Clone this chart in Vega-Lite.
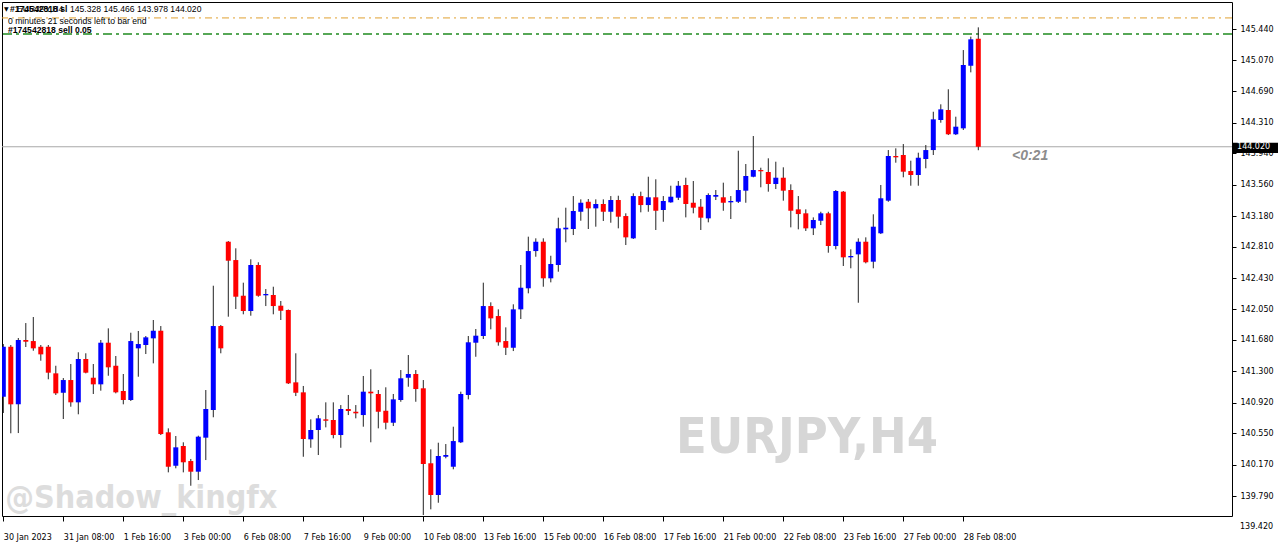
{
  "$schema": "https://vega.github.io/schema/vega-lite/v6.json",
  "width": 1230,
  "height": 514,
  "autosize": {"type": "none"},
  "padding": {"left": 2, "top": 2, "right": 48, "bottom": 33},
  "background": "#ffffff",
  "config": {
    "view": {"stroke": "#000000", "strokeWidth": 1},
    "scale": {"continuousPadding": 0},
    "axis": {"grid": false, "domain": false, "tickColor": "#000000", "labelColor": "#000000", "labelFont": "DejaVu Sans", "labelFontSize": 8, "title": null, "labelOverlap": false}
  },
  "datasets": {
    "bars": [
      {"i":0,"o":140.993,"h":141.631,"l":140.796,"c":141.598},
      {"i":1,"o":141.598,"h":141.619,"l":140.550,"c":140.901},
      {"i":2,"o":140.901,"h":141.704,"l":140.553,"c":141.680},
      {"i":3,"o":141.680,"h":141.885,"l":141.595,"c":141.659},
      {"i":4,"o":141.667,"h":141.958,"l":141.550,"c":141.579},
      {"i":5,"o":141.598,"h":141.619,"l":141.429,"c":141.506},
      {"i":6,"o":141.598,"h":141.619,"l":141.204,"c":141.284},
      {"i":7,"o":141.276,"h":141.368,"l":141.014,"c":141.034},
      {"i":8,"o":141.041,"h":141.219,"l":140.723,"c":141.195},
      {"i":9,"o":141.195,"h":141.389,"l":140.872,"c":140.925},
      {"i":10,"o":140.925,"h":141.531,"l":140.780,"c":141.450},
      {"i":11,"o":141.450,"h":141.519,"l":141.276,"c":141.284},
      {"i":12,"o":141.223,"h":141.389,"l":141.026,"c":141.143},
      {"i":13,"o":141.143,"h":141.680,"l":141.066,"c":141.647},
      {"i":14,"o":141.647,"h":141.821,"l":141.247,"c":141.349},
      {"i":15,"o":141.368,"h":141.486,"l":141.034,"c":141.046},
      {"i":16,"o":141.062,"h":141.268,"l":140.901,"c":140.953},
      {"i":17,"o":140.953,"h":141.768,"l":140.941,"c":141.667},
      {"i":18,"o":141.579,"h":141.789,"l":141.235,"c":141.631},
      {"i":19,"o":141.619,"h":141.728,"l":141.510,"c":141.712},
      {"i":20,"o":141.700,"h":141.922,"l":141.397,"c":141.792},
      {"i":21,"o":141.792,"h":141.849,"l":140.529,"c":140.541},
      {"i":22,"o":140.562,"h":140.610,"l":140.077,"c":140.145},
      {"i":23,"o":140.157,"h":140.517,"l":140.126,"c":140.380},
      {"i":24,"o":140.396,"h":140.441,"l":140.077,"c":140.199},
      {"i":25,"o":140.214,"h":140.239,"l":139.915,"c":140.085},
      {"i":26,"o":140.085,"h":140.521,"l":139.984,"c":140.509},
      {"i":27,"o":140.497,"h":141.074,"l":140.226,"c":140.844},
      {"i":28,"o":140.832,"h":142.337,"l":140.744,"c":141.849},
      {"i":29,"o":141.849,"h":141.861,"l":141.519,"c":141.579},
      {"i":30,"o":142.870,"h":142.878,"l":141.962,"c":142.640},
      {"i":31,"o":142.648,"h":142.790,"l":142.055,"c":142.204},
      {"i":32,"o":142.216,"h":142.374,"l":141.991,"c":142.031},
      {"i":33,"o":142.031,"h":142.657,"l":141.974,"c":142.588},
      {"i":34,"o":142.588,"h":142.621,"l":142.204,"c":142.216},
      {"i":35,"o":142.221,"h":142.297,"l":142.091,"c":142.237},
      {"i":36,"o":142.225,"h":142.325,"l":141.991,"c":142.091},
      {"i":37,"o":142.095,"h":142.152,"l":141.922,"c":142.034},
      {"i":38,"o":142.043,"h":142.049,"l":141.147,"c":141.155},
      {"i":39,"o":141.167,"h":141.519,"l":141.001,"c":141.041},
      {"i":40,"o":141.046,"h":141.123,"l":140.266,"c":140.481},
      {"i":41,"o":140.477,"h":140.719,"l":140.375,"c":140.590},
      {"i":42,"o":140.590,"h":140.771,"l":140.287,"c":140.731},
      {"i":43,"o":140.719,"h":140.925,"l":140.622,"c":140.702},
      {"i":44,"o":140.711,"h":140.925,"l":140.489,"c":140.529},
      {"i":45,"o":140.529,"h":140.892,"l":140.375,"c":140.844},
      {"i":46,"o":140.844,"h":141.014,"l":140.771,"c":140.820},
      {"i":47,"o":140.811,"h":140.892,"l":140.731,"c":140.792},
      {"i":48,"o":140.771,"h":141.244,"l":140.630,"c":141.054},
      {"i":49,"o":141.054,"h":141.325,"l":140.441,"c":141.034},
      {"i":50,"o":141.026,"h":141.074,"l":140.610,"c":140.811},
      {"i":51,"o":140.823,"h":141.107,"l":140.598,"c":140.678},
      {"i":52,"o":140.678,"h":141.026,"l":140.638,"c":140.961},
      {"i":53,"o":140.953,"h":141.316,"l":140.932,"c":141.216},
      {"i":54,"o":141.223,"h":141.498,"l":141.114,"c":141.268},
      {"i":55,"o":141.268,"h":141.316,"l":140.932,"c":141.086},
      {"i":56,"o":141.095,"h":141.195,"l":139.560,"c":140.178},
      {"i":57,"o":140.187,"h":140.356,"l":139.629,"c":139.803},
      {"i":58,"o":139.803,"h":140.436,"l":139.709,"c":140.275},
      {"i":59,"o":140.266,"h":140.420,"l":140.247,"c":140.287},
      {"i":60,"o":140.145,"h":140.630,"l":140.114,"c":140.456},
      {"i":61,"o":140.441,"h":141.054,"l":140.432,"c":141.026},
      {"i":62,"o":141.014,"h":141.728,"l":140.961,"c":141.652},
      {"i":63,"o":141.647,"h":141.813,"l":141.477,"c":141.732},
      {"i":64,"o":141.728,"h":142.374,"l":141.692,"c":142.091},
      {"i":65,"o":142.091,"h":142.136,"l":141.809,"c":141.942},
      {"i":66,"o":141.970,"h":142.051,"l":141.611,"c":141.652},
      {"i":67,"o":141.667,"h":141.833,"l":141.498,"c":141.586},
      {"i":68,"o":141.586,"h":142.112,"l":141.546,"c":142.051},
      {"i":69,"o":142.051,"h":142.588,"l":141.934,"c":142.313},
      {"i":70,"o":142.306,"h":142.931,"l":142.245,"c":142.757},
      {"i":71,"o":142.757,"h":142.911,"l":142.688,"c":142.870},
      {"i":72,"o":142.870,"h":142.911,"l":142.325,"c":142.427},
      {"i":73,"o":142.427,"h":142.700,"l":142.378,"c":142.600},
      {"i":74,"o":142.588,"h":143.161,"l":142.507,"c":143.032},
      {"i":75,"o":143.020,"h":143.282,"l":142.863,"c":143.040},
      {"i":76,"o":143.024,"h":143.423,"l":142.951,"c":143.242},
      {"i":77,"o":143.233,"h":143.383,"l":143.124,"c":143.342},
      {"i":78,"o":143.354,"h":143.387,"l":143.024,"c":143.274},
      {"i":79,"o":143.274,"h":143.383,"l":143.052,"c":143.327},
      {"i":80,"o":143.327,"h":143.383,"l":143.121,"c":143.233},
      {"i":81,"o":143.233,"h":143.423,"l":143.100,"c":143.375},
      {"i":82,"o":143.375,"h":143.427,"l":143.032,"c":143.173},
      {"i":83,"o":143.181,"h":143.214,"l":142.830,"c":142.923},
      {"i":84,"o":142.911,"h":143.456,"l":142.903,"c":143.423},
      {"i":85,"o":143.423,"h":143.476,"l":143.226,"c":143.314},
      {"i":86,"o":143.314,"h":143.657,"l":143.233,"c":143.408},
      {"i":87,"o":143.408,"h":143.626,"l":143.012,"c":143.245},
      {"i":88,"o":143.254,"h":143.423,"l":143.112,"c":143.363},
      {"i":89,"o":143.347,"h":143.548,"l":143.342,"c":143.415},
      {"i":90,"o":143.403,"h":143.605,"l":143.375,"c":143.548},
      {"i":91,"o":143.557,"h":143.645,"l":143.165,"c":143.327},
      {"i":92,"o":143.342,"h":143.605,"l":143.214,"c":143.282},
      {"i":93,"o":143.294,"h":143.387,"l":143.012,"c":143.161},
      {"i":94,"o":143.153,"h":143.456,"l":143.105,"c":143.436},
      {"i":95,"o":143.415,"h":143.496,"l":143.375,"c":143.436},
      {"i":96,"o":143.408,"h":143.585,"l":143.245,"c":143.342},
      {"i":97,"o":143.347,"h":143.423,"l":143.145,"c":143.363},
      {"i":98,"o":143.354,"h":143.972,"l":143.339,"c":143.496},
      {"i":99,"o":143.488,"h":143.811,"l":143.342,"c":143.666},
      {"i":100,"o":143.657,"h":144.150,"l":143.650,"c":143.738},
      {"i":101,"o":143.738,"h":143.766,"l":143.529,"c":143.723},
      {"i":102,"o":143.714,"h":143.880,"l":143.476,"c":143.569},
      {"i":103,"o":143.569,"h":143.839,"l":143.508,"c":143.645},
      {"i":104,"o":143.645,"h":143.771,"l":143.367,"c":143.488},
      {"i":105,"o":143.496,"h":143.565,"l":143.044,"c":143.245},
      {"i":106,"o":143.262,"h":143.423,"l":143.020,"c":143.205},
      {"i":107,"o":143.214,"h":143.262,"l":143.000,"c":143.032},
      {"i":108,"o":143.032,"h":143.165,"l":142.951,"c":143.133},
      {"i":109,"o":143.124,"h":143.233,"l":143.072,"c":143.214},
      {"i":110,"o":143.214,"h":143.233,"l":142.737,"c":142.818},
      {"i":111,"o":142.818,"h":143.496,"l":142.778,"c":143.484},
      {"i":112,"o":143.476,"h":143.484,"l":142.576,"c":142.681},
      {"i":113,"o":142.681,"h":142.778,"l":142.548,"c":142.697},
      {"i":114,"o":142.717,"h":142.911,"l":142.131,"c":142.870},
      {"i":115,"o":142.870,"h":142.923,"l":142.608,"c":142.621},
      {"i":116,"o":142.628,"h":143.202,"l":142.548,"c":143.052},
      {"i":117,"o":142.972,"h":143.557,"l":142.963,"c":143.396},
      {"i":118,"o":143.367,"h":143.980,"l":143.354,"c":143.908},
      {"i":119,"o":143.908,"h":144.001,"l":143.827,"c":143.892},
      {"i":120,"o":143.920,"h":144.053,"l":143.650,"c":143.718},
      {"i":121,"o":143.726,"h":143.851,"l":143.548,"c":143.678},
      {"i":122,"o":143.678,"h":143.948,"l":143.548,"c":143.887},
      {"i":123,"o":143.872,"h":144.041,"l":143.759,"c":143.980},
      {"i":124,"o":143.980,"h":144.444,"l":143.920,"c":144.352},
      {"i":125,"o":144.344,"h":144.534,"l":144.311,"c":144.473},
      {"i":126,"o":144.465,"h":144.716,"l":144.162,"c":144.171},
      {"i":127,"o":144.171,"h":144.384,"l":144.162,"c":144.263},
      {"i":128,"o":144.243,"h":145.191,"l":144.223,"c":145.010},
      {"i":129,"o":145.001,"h":145.353,"l":144.921,"c":145.321},
      {"i":130,"o":145.328,"h":145.466,"l":143.978,"c":144.020}
    ]
  },
  "layer": [
    {
      "data": {"name": "bars"},
      "mark": {"type": "rule", "opacity": 0},
      "encoding": {
        "x": {"field": "i", "type": "quantitative", "scale": {"domain": [-0.173, 163.827], "nice": false, "zero": false, "padding": 0},
          "axis": {"values": [0, 8, 16, 24, 32, 40, 48, 56, 64, 72, 80, 88, 96, 104, 112, 120, 128], "tickCount": 40, "tickSize": 5, "labelAlign": "left", "labelPadding": 16, "labelBaseline": "middle", "labelFlush": false, "labelOverlap": false, "title": null,
            "labelExpr": "['30 Jan 2023','31 Jan 08:00','1 Feb 16:00','3 Feb 00:00','6 Feb 08:00','7 Feb 16:00','9 Feb 00:00','10 Feb 08:00','13 Feb 16:00','15 Feb 00:00','16 Feb 08:00','17 Feb 16:00','21 Feb 00:00','22 Feb 08:00','23 Feb 16:00','27 Feb 00:00','28 Feb 08:00'][round(datum.value/8)]"}},
        "y": {"field": "l", "type": "quantitative", "scale": {"domain": [139.5485, 145.773], "nice": false, "zero": false, "padding": 0},
          "axis": {"orient": "right", "values": [139.79, 140.17, 140.55, 140.92, 141.3, 141.68, 142.05, 142.43, 142.81, 143.18, 143.56, 143.94, 144.31, 144.69, 145.07, 145.44], "tickCount": 40, "format": ".3f", "tickSize": 4, "labelPadding": 4, "labelFlush": false, "labelOverlap": false, "title": null}},
        "y2": {"field": "h"}
      }
    },
    {
      "data": {"values": [{"p": 140.493, "t": "EURJPY,H4"}]},
      "mark": {"type": "text", "font": "DejaVu Sans Condensed, Liberation Sans Narrow, Liberation Sans, sans-serif", "fontWeight": "bold", "fontSize": 50, "color": "#d6d6d6", "align": "center", "baseline": "middle"},
      "encoding": {
        "x": {"datum": 107.16, "type": "quantitative"},
        "y": {"field": "p", "type": "quantitative"},
        "text": {"field": "t"}
      }
    },
    {
      "data": {"values": [{"p": 139.766, "t": "@Shadow_kingfx"}]},
      "mark": {"type": "text", "font": "DejaVu Sans Condensed, Liberation Sans Narrow, Liberation Sans, sans-serif", "fontWeight": "bold", "fontSize": 32, "color": "#dddddd", "align": "center", "baseline": "middle"},
      "encoding": {
        "x": {"datum": 18.4, "type": "quantitative"},
        "y": {"field": "p", "type": "quantitative"},
        "text": {"field": "t"}
      }
    },
    {
      "data": {"values": [{"p": 145.58}]},
      "mark": {"type": "rule", "color": "#e0a030", "strokeWidth": 1, "strokeDash": [7, 4, 2, 4]},
      "encoding": {
        "y": {"field": "p", "type": "quantitative"}
      }
    },
    {
      "data": {"values": [{"p": 145.385}]},
      "mark": {"type": "rule", "color": "#1f8a1f", "strokeWidth": 1.6, "strokeDash": [9, 4, 3, 4]},
      "encoding": {
        "y": {"field": "p", "type": "quantitative"}
      }
    },
    {
      "data": {"values": [{"p": 144.02}]},
      "mark": {"type": "rule", "color": "#a8a8a8", "strokeWidth": 1},
      "encoding": {
        "y": {"field": "p", "type": "quantitative"}
      }
    },
    {
      "data": {"name": "bars"},
      "mark": {"type": "rule", "color": "#222222", "strokeWidth": 1, "clip": true},
      "encoding": {
        "x": {"field": "i", "type": "quantitative"},
        "y": {"field": "l", "type": "quantitative"},
        "y2": {"field": "h"}
      }
    },
    {
      "data": {"name": "bars"},
      "mark": {"type": "bar", "width": 5, "clip": true},
      "encoding": {
        "x": {"field": "i", "type": "quantitative"},
        "y": {"field": "o", "type": "quantitative"},
        "y2": {"field": "c"},
        "color": {"condition": {"test": "datum.c >= datum.o", "value": "#0000ff"}, "value": "#ff0000"}
      }
    },
    {
      "data": {"values": [{"x1": 163.96, "x2": 169.96, "p1": 143.944, "p2": 144.07}]},
      "mark": {"type": "rect", "color": "#000000", "clip": false},
      "encoding": {
        "x": {"field": "x1", "type": "quantitative"},
        "x2": {"field": "x2"},
        "y": {"field": "p1", "type": "quantitative"},
        "y2": {"field": "p2"}
      }
    },
    {
      "data": {"values": [{"p": 144.02, "t": "144.020"}]},
      "mark": {"type": "text", "font": "DejaVu Sans", "fontSize": 8, "color": "#ffffff", "align": "left", "baseline": "middle", "clip": false},
      "encoding": {
        "x": {"datum": 164.5, "type": "quantitative"},
        "y": {"field": "p", "type": "quantitative"},
        "text": {"field": "t"}
      }
    },
    {
      "data": {"values": [{"p": 139.42, "t": "139.420"}]},
      "mark": {"type": "text", "font": "DejaVu Sans", "fontSize": 8, "color": "#000000", "align": "left", "baseline": "middle", "clip": false},
      "encoding": {
        "x": {"datum": 164.893, "type": "quantitative"},
        "y": {"field": "p", "type": "quantitative"},
        "text": {"field": "t"}
      }
    },
    {
      "data": {"values": [{"p": 143.908, "t": "<0:21"}]},
      "mark": {"type": "text", "font": "Liberation Sans", "fontWeight": "bold", "fontStyle": "italic", "fontSize": 14, "color": "#8c8c8c", "align": "left", "baseline": "middle"},
      "encoding": {
        "x": {"datum": 134.49, "type": "quantitative"},
        "y": {"field": "p", "type": "quantitative"},
        "text": {"field": "t"}
      }
    },
    {
      "data": {"values": [
        {"x": 1.827, "p": 145.688, "t": "EURJPY,H4"},
        {"x": 8.894, "p": 145.688, "t": "145.328 145.466 143.978 144.020"},
        {"x": 0.627, "p": 145.543, "t": "0 minutes 21 seconds left to bar end"}
      ]},
      "mark": {"type": "text", "font": "Liberation Sans", "fontSize": 8.6, "color": "#000000", "align": "left", "baseline": "middle"},
      "encoding": {
        "x": {"field": "x", "type": "quantitative"},
        "y": {"field": "p", "type": "quantitative"},
        "text": {"field": "t"}
      }
    },
    {
      "data": {"values": [
        {"x": 0.894, "p": 145.688, "t": "#174542818 sl"},
        {"x": 0.627, "p": 145.434, "t": "#174542818 sell 0.05"}
      ]},
      "mark": {"type": "text", "font": "Liberation Sans", "fontWeight": "bold", "fontSize": 8.6, "color": "#000000", "align": "left", "baseline": "middle"},
      "encoding": {
        "x": {"field": "x", "type": "quantitative"},
        "y": {"field": "p", "type": "quantitative"},
        "text": {"field": "t"}
      }
    },
    {
      "data": {"values": [{"p": 145.688, "t": "▼"}]},
      "mark": {"type": "text", "font": "DejaVu Sans", "fontSize": 6, "color": "#000000", "align": "left", "baseline": "middle"},
      "encoding": {
        "x": {"datum": 0.094, "type": "quantitative"},
        "y": {"field": "p", "type": "quantitative"},
        "text": {"field": "t"}
      }
    }
  ]
}
